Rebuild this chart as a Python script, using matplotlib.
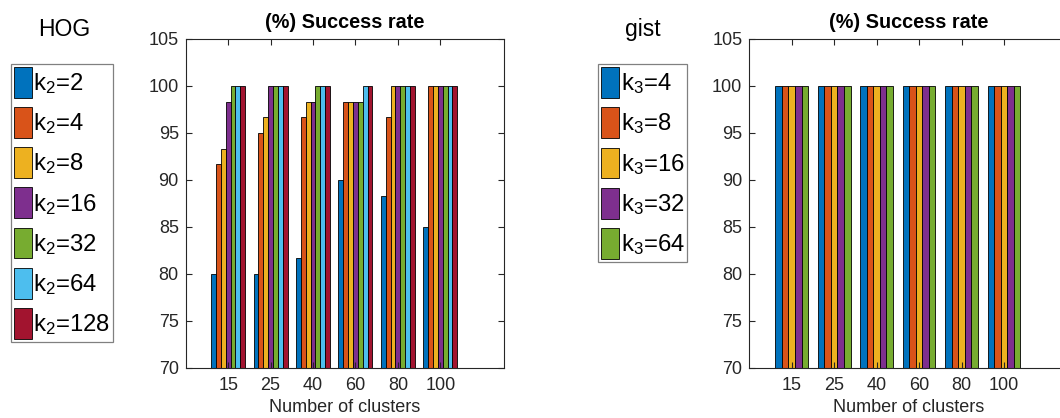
import numpy as np
import matplotlib
matplotlib.use("Agg")
import matplotlib.pyplot as plt

plt.rcParams['font.family'] = ['Liberation Sans', 'DejaVu Sans']
plt.rcParams['mathtext.fontset'] = 'custom'
plt.rcParams['mathtext.rm'] = 'Liberation Sans'
plt.rcParams['mathtext.it'] = 'Liberation Sans'
plt.rcParams['mathtext.bf'] = 'Liberation Sans:bold'

# ---- data ----
clusters = ['15', '25', '40', '60', '80', '100']
hog_k = [2, 4, 8, 16, 32, 64, 128]
hog_k2_2 = [80.00, 80.00, 81.67, 90.00, 88.33, 85.00]
hog_k2_4 = [91.67, 95.00, 96.67, 98.33, 96.67, 100.0]
hog_k2_8 = [93.33, 96.67, 98.33, 98.33, 100.0, 100.0]
hog_k2_16 = [98.33, 100.0, 98.33, 98.33, 100.0, 100.0]
hog_k2_32 = [100.0, 100.0, 100.0, 98.33, 100.0, 100.0]
hog_k2_64 = [100.0, 100.0, 100.0, 100.0, 100.0, 100.0]
hog_k2_128 = [100.0, 100.0, 100.0, 100.0, 100.0, 100.0]
hog_series = [hog_k2_2, hog_k2_4, hog_k2_8, hog_k2_16, hog_k2_32, hog_k2_64, hog_k2_128]

gist_k = [4, 8, 16, 32, 64]
gist_k3_4 = [100.0, 100.0, 100.0, 100.0, 100.0, 100.0]
gist_k3_8 = [100.0, 100.0, 100.0, 100.0, 100.0, 100.0]
gist_k3_16 = [100.0, 100.0, 100.0, 100.0, 100.0, 100.0]
gist_k3_32 = [100.0, 100.0, 100.0, 100.0, 100.0, 100.0]
gist_k3_64 = [100.0, 100.0, 100.0, 100.0, 100.0, 100.0]
gist_series = [gist_k3_4, gist_k3_8, gist_k3_16, gist_k3_32, gist_k3_64]

colors = ['#0072BD', '#D95319', '#EDB120', '#7E2F8E', '#77AC30', '#4DBEEE', '#A2142F']
txt = '#262626'

W, H = 1060, 418
fig = plt.figure(figsize=(W / 100, H / 100), dpi=100)


def panel(rect, series, ks, sub, legend_anchor, name, name_x):
    ax = fig.add_axes(rect)
    n = len(series)
    gw = min(0.8, n / (n + 1.5))
    bw = gw / n
    x = np.arange(1, len(clusters) + 1)
    handles = []
    for i, s in enumerate(series):
        off = -gw / 2 + (i + 0.5) * bw
        b = ax.bar(x + off, s, width=bw, color=colors[i], edgecolor='black',
                   linewidth=0.6, label=r'k$_{%s}$=%d' % (sub, ks[i]))
        handles.append(b)
    ax.set_xlim(0, 7.5)
    ax.set_ylim(70, 105)
    ax.set_yticks(np.arange(70, 106, 5))
    ax.set_xticks(x)
    ax.set_xticklabels(clusters)
    ax.tick_params(direction='in', top=True, right=True, length=4, width=0.8,
                   labelsize=13, colors=txt, pad=5)
    ax.tick_params(axis='x', pad=7)
    for sp in ax.spines.values():
        sp.set_color(txt)
        sp.set_linewidth(0.8)
    ax.set_xlabel('Number of clusters', fontsize=13, color=txt, labelpad=3)
    ax.set_title('(%) Success rate', fontsize=14.3, fontweight='bold', color='black', pad=8)
    leg = fig.legend(handles=handles, loc='upper left',
                     bbox_to_anchor=legend_anchor, bbox_transform=fig.transFigure,
                     fontsize=17.2, handlelength=0.75, handleheight=1.61,
                     handletextpad=0.06, labelspacing=0.39, borderpad=0.12,
                     borderaxespad=0, fancybox=False, framealpha=1,
                     edgecolor='#808080')
    leg.get_frame().set_linewidth(0.9)
    for t in leg.get_texts():
        t.set_color('black')
    fig.text(name_x / W, 1 - 29.5 / H, name, ha='center', va='center',
             fontsize=16.5, color='black')
    return ax


bottom = (H - 367.7) / H
height = (367.7 - 39) / H
width = 318.3 / W
panel([185.7 / W, bottom, width, height], hog_series, hog_k, '2',
      (11 / W, 1 - 64 / H), 'HOG', 64.5)
panel([749.3 / W, bottom, width, height], gist_series, gist_k, '3',
      (598.3 / W, 1 - 64.3 / H), 'gist', 643)

fig.savefig('out.png', dpi=100)
